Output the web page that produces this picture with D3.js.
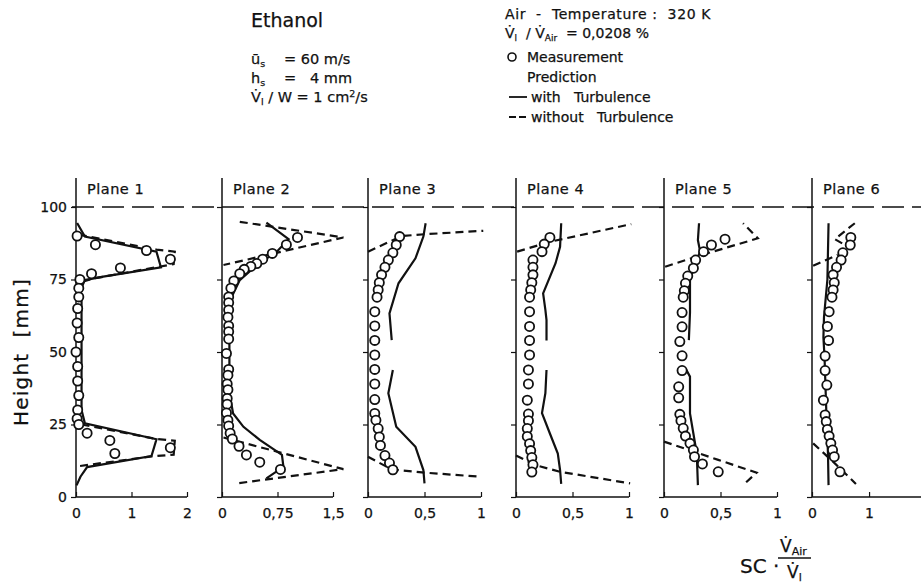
<!DOCTYPE html>
<html><head><meta charset="utf-8">
<script src="https://cdn.jsdelivr.net/npm/d3@7"></script>
<style>
html,body{margin:0;padding:0;background:#fff;}
text{font-family:"DejaVu Sans",sans-serif;fill:#111;stroke:#111;stroke-width:0.25px;}
</style></head>
<body><svg id="c" width="921" height="588"></svg>
<script>
// ---------- data ----------
const planeNames = ["Plane 1","Plane 2","Plane 3","Plane 4","Plane 5","Plane 6"];
const xDomainMax = [2, 1.5, 1, 1, 1, 1.91];
const xTickValues = [[0,1,2],[0,0.75,1.5],[0,0.5,1],[0,0.5,1],[0,0.5,1],[0,1]];
const xTickLabels = [["0","1","2"],["0","0,75","1,5"],["0","0,5","1"],["0","0,5","1"],["0","0,5","1"],["0","1"]];
const yTickValues = [0,25,50,75,100];

// measurement points [value, height mm]
const meas1 = [[0.02,90],[0.35,87],[1.27,85],[1.7,82],[0.8,79],[0.28,77],[0.07,75],[0.05,72],[0.05,69],[0.03,65],[0.02,60],[0.05,55],[0,50],[0.03,45],[0.03,40],[0.05,35],[0.03,30],[0.02,27],[0.05,25],[0.2,22],[0.61,19.5],[1.7,17],[0.7,15]];
const meas2 = [[1.02,89.5],[0.87,87],[0.68,84],[0.55,82],[0.47,80.5],[0.39,79.5],[0.3,78.5],[0.24,77],[0.16,74.5],[0.12,72],[0.09,69],[0.09,67],[0.09,64.5],[0.08,62],[0.09,59],[0.09,57],[0.09,54.5],[0.06,49.5],[0.09,44],[0.08,42],[0.07,39],[0.08,37],[0.07,34],[0.07,32],[0.06,29],[0.08,26.5],[0.09,24.5],[0.11,22],[0.14,20],[0.23,17.5],[0.33,14.5],[0.51,12],[0.79,9.5]];
const meas3 = [[0.28,89.8],[0.25,86.9],[0.22,84.2],[0.18,81.7],[0.15,79.2],[0.12,76.6],[0.1,73.9],[0.09,71.4],[0.08,68.9],[0.06,63.9],[0.06,59],[0.06,54],[0.06,49],[0.06,44],[0.06,39],[0.06,33.6],[0.06,28.8],[0.07,26.5],[0.09,23.6],[0.1,20.7],[0.11,17.8],[0.15,14.3],[0.19,11.7],[0.22,9.4]];
const meas4 = [[0.3,89.5],[0.25,87.2],[0.23,84.6],[0.15,81.7],[0.15,79.2],[0.15,76.6],[0.14,73.9],[0.13,71.4],[0.12,68.9],[0.12,63.9],[0.12,58.8],[0.12,54],[0.12,49],[0.11,43.8],[0.11,39],[0.1,33.4],[0.11,28.6],[0.11,26.3],[0.1,23.6],[0.1,20.9],[0.12,18.4],[0.13,16],[0.14,13.6],[0.15,11.1],[0.14,8.6]];
const meas5 = [[0.54,88.9],[0.42,86.9],[0.35,84.6],[0.28,81.7],[0.26,78.9],[0.21,76.2],[0.19,73.7],[0.18,71.1],[0.17,68.9],[0.16,63.6],[0.16,58.7],[0.14,53.6],[0.16,48.7],[0.16,43.6],[0.13,38],[0.13,34.2],[0.14,28.5],[0.15,26.3],[0.17,23.7],[0.19,21],[0.23,18.5],[0.26,16.2],[0.27,13.9],[0.34,11.4],[0.48,8.7]];
const meas6 = [[0.68,89.5],[0.67,86.9],[0.54,84.2],[0.51,81.7],[0.43,79.2],[0.37,76.6],[0.39,73.9],[0.37,71.4],[0.35,68.9],[0.3,63.9],[0.27,58.8],[0.29,54],[0.23,48.6],[0.23,43.6],[0.26,38.6],[0.2,33.4],[0.23,28.3],[0.25,26],[0.27,23.3],[0.3,21],[0.33,18.5],[0.36,16.2],[0.39,13.9],[0.49,8.7]];

// prediction with turbulence (null = gap)
const solid1 = [[0.02,94.5],[0.16,89.8],[1.45,84.6],[1.53,79.2],[0.49,76],[0.16,74.8],[0.08,71.4],[0.1,69],[0.1,50],[0.1,30],[0.16,25.4],[1.45,19.9],[1.36,14.1],[0.2,10.3],[0.08,7],[0.01,4]];
const solid2 = [[0.6,94.6],[0.9,88.9],[0.74,84.6],[0.47,80],[0.24,74.8],[0.13,69],[0.1,61],[0.1,50],[0.1,36],[0.15,28.8],[0.29,24.2],[0.51,19.7],[0.81,14.5],[0.83,10.4],[0.6,6.4]];
const solid3 = [[0.51,94.4],[0.49,89.8],[0.42,82.3],[0.27,73.7],[0.19,63.3],[0.21,54.1],null,[0.22,43.8],[0.18,35.8],[0.25,24.2],[0.42,17.3],[0.49,9.3],[0.5,4.7]];
const solid4 = [[0.4,94.4],[0.39,86.3],[0.35,80.6],[0.24,70.2],[0.26,64.5],[0.27,61],[0.27,54],null,[0.27,43.8],[0.26,35.8],[0.23,28.9],[0.3,21.9],[0.37,15],[0.39,9.3],[0.4,4.5]];
const solid5 = [[0.31,94.4],[0.3,88.6],[0.32,84.6],[0.26,78.9],[0.23,74.8],[0.23,63.6],[0.22,54.1],null,[0.19,44.4],[0.23,41.5],[0.23,28.8],[0.26,21.9],[0.29,15],[0.3,4.1]];
const solid6 = [[0.29,94.4],[0.27,75],[0.21,62],[0.2,55],[0.22,48],[0.25,30],[0.28,15],[0.29,4.1]];

// prediction without turbulence
const dashed1 = [[0.05,90.5],[1.45,85.3],[1.78,84.6],[1.76,80.3],[0.3,75.3],[0.08,74],null,[0.1,25],[1.45,20],[1.78,19.4],[1.76,14.6],[1.36,14],[0,10.5]];
const dashed2 = [[0.24,94.9],[1.64,89.5],[0.02,80],null,[0.02,20.5],[1.64,9.6],[0.2,4.7]];
const dashed3 = [[0,84.6],[0.3,90],[0.5,90.6],[1.02,91.8],null,[0,13.9],[0.21,9.5],[0.5,8.4],[0.99,7]];
const dashed4 = [[0.01,84.6],[0.3,88],[1.02,94.1],null,[0,14.3],[0.17,11],[0.39,8.7],[1.01,4.7]];
const dashed5 = [[0.01,79.4],[0.33,83.4],[0.83,89.2],[0.7,94.4],null,[0,19.1],[0.48,12.8],[0.82,8.4],[0.7,4.1]];
const dashed6 = [[0.02,79.7],[0.45,83.5],null,[0.75,94.4],[0.4,88.9],[0.58,86.9],null,[0.02,18.5],[0.4,11.6],[0.77,4.5]];

const measAll = [meas1,meas2,meas3,meas4,meas5,meas6];
const solidAll = [solid1,solid2,solid3,solid4,solid5,solid6];
const dashedAll = [dashed1,dashed2,dashed3,dashed4,dashed5,dashed6];

// ---------- layout ----------
const svg = d3.select("#c");
const panelX0 = [76,222,368,516,664,812];
const panelX1 = [187,333,481,629,777,921];
const yBottom = 497, yTop = 207;
const y = d3.scaleLinear().domain([0,100]).range([yBottom,yTop]);
const ink = "#111";

// reference line at 100 mm
svg.append("line").attr("x1",72).attr("x2",921).attr("y1",y(100)).attr("y2",y(100))
  .attr("stroke",ink).attr("stroke-width",1.6).attr("stroke-dasharray","22,8");

planeNames.forEach((name,i)=>{
  const x = d3.scaleLinear().domain([0,xDomainMax[i]]).range([panelX0[i],panelX1[i]]);
  const g = svg.append("g");
  g.append("line").attr("x1",panelX0[i]).attr("x2",panelX0[i]).attr("y1",178).attr("y2",yBottom)
    .attr("stroke",ink).attr("stroke-width",1.5);
  const ya = d3.axisLeft(y).tickValues(yTickValues).tickSize(5).tickFormat(i===0? d3.format("d") : "");
  const yg = g.append("g").attr("transform",`translate(${panelX0[i]},0)`).call(ya);
  yg.select(".domain").remove();
  yg.selectAll("line").attr("stroke",ink).attr("stroke-width",1.2);
  yg.selectAll("text").attr("font-size",14).attr("font-family","DejaVu Sans").attr("fill",ink).attr("dx",-1);
  const xa = d3.axisBottom(x).tickValues(xTickValues[i]).tickSizeInner(-5).tickSizeOuter(0).tickPadding(11)
    .tickFormat((d,k)=>xTickLabels[i][k]);
  const xg = g.append("g").attr("transform",`translate(0,${yBottom})`).call(xa);
  xg.select(".domain").attr("d",`M${panelX0[i]},0H${panelX1[i]}`).attr("stroke",ink).attr("stroke-width",1.5);
  xg.selectAll("line").attr("stroke",ink).attr("stroke-width",1.2);
  xg.selectAll("text").attr("font-size",14).attr("font-family","DejaVu Sans").attr("fill",ink);
  g.append("text").attr("x",panelX0[i]+11).attr("y",194).attr("font-size",14.5).attr("letter-spacing",0.5).text(name);

  const line = d3.line().defined(d=>d!==null).x(d=>x(d[0])).y(d=>y(d[1]));
  g.append("path").datum(dashedAll[i]).attr("d",line).attr("fill","none").attr("stroke",ink)
    .attr("stroke-width",2.2).attr("stroke-dasharray","8,5");
  g.append("path").datum(solidAll[i]).attr("d",line).attr("fill","none").attr("stroke",ink)
    .attr("stroke-width",2.2);
  g.selectAll("circle.m").data(measAll[i]).join("circle").attr("class","m")
    .attr("cx",d=>x(d[0])).attr("cy",d=>y(d[1])).attr("r",4.6)
    .attr("fill","#fff").attr("stroke",ink).attr("stroke-width",1.8);
});

// y-axis title
svg.append("text").attr("transform","translate(28,352) rotate(-90)").attr("text-anchor","middle")
  .attr("font-size",20).attr("letter-spacing",1.2).style("white-space","pre").text("Height  [mm]");

// header left
svg.append("text").attr("x",251).attr("y",27).attr("font-size",19).text("Ethanol");
function sub(base, subtxt, x, yy){
  const tx = svg.append("text").attr("x",x).attr("y",yy).attr("font-size",14.5);
  tx.append("tspan").text(base);
  tx.append("tspan").attr("font-size",9.5).attr("dy",3).text(subtxt);
  return tx;
}
sub("\u016B","s",251,64);
svg.append("text").attr("x",284).attr("y",64).attr("font-size",14.5).text("= 60 m/s");
sub("h","s",251,83);
svg.append("text").attr("x",284).attr("y",83).attr("font-size",14.5).style("white-space","pre").text("=   4 mm");
{
  const t = svg.append("text").attr("x",251).attr("y",102).attr("font-size",14.5).style("white-space","pre");
  t.append("tspan").text("V\u0307");
  t.append("tspan").attr("font-size",9.5).attr("dy",3).text("l");
  t.append("tspan").attr("dy",-3).text(" / W = 1 cm");
  t.append("tspan").attr("font-size",9.5).attr("dy",-5).text("2");
  t.append("tspan").attr("dy",5).text("/s");
}
// header right
svg.append("text").attr("x",505).attr("y",19).attr("font-size",14).attr("letter-spacing",0.6)
  .style("white-space","pre").text("Air  -  Temperature :  320 K");
{
  const t = svg.append("text").attr("x",505).attr("y",38).attr("font-size",14).style("white-space","pre");
  t.append("tspan").text("V\u0307");
  t.append("tspan").attr("font-size",9).attr("dy",3).text("l");
  t.append("tspan").attr("dy",-3).text("  / V\u0307");
  t.append("tspan").attr("font-size",9).attr("dy",3).text("Air");
  t.append("tspan").attr("dy",-3).text("  = 0,0208 %");
}
svg.append("circle").attr("cx",512).attr("cy",57).attr("r",4).attr("fill","#fff").attr("stroke",ink).attr("stroke-width",1.6);
svg.append("text").attr("x",527).attr("y",62).attr("font-size",14).text("Measurement");
svg.append("text").attr("x",527).attr("y",82).attr("font-size",14).text("Prediction");
svg.append("line").attr("x1",509).attr("x2",527).attr("y1",97).attr("y2",97).attr("stroke",ink).attr("stroke-width",1.8);
svg.append("text").attr("x",531).attr("y",102).attr("font-size",14).style("white-space","pre").text("with   Turbulence");
svg.append("line").attr("x1",509).attr("x2",527).attr("y1",117).attr("y2",117).attr("stroke",ink).attr("stroke-width",1.8).attr("stroke-dasharray","7,3");
svg.append("text").attr("x",531).attr("y",122).attr("font-size",14).style("white-space","pre").text("without   Turbulence");

// x quantity label
svg.append("text").attr("x",740).attr("y",573).attr("font-size",20).style("white-space","pre").text("SC \u00B7");
{
  const t = svg.append("text").attr("x",780).attr("y",552).attr("font-size",17);
  t.append("tspan").text("V\u0307");
  t.append("tspan").attr("font-size",11).attr("dy",3).text("Air");
  svg.append("line").attr("x1",778).attr("x2",811).attr("y1",558).attr("y2",558).attr("stroke",ink).attr("stroke-width",1.3);
  const b = svg.append("text").attr("x",787).attr("y",578).attr("font-size",17);
  b.append("tspan").text("V\u0307");
  b.append("tspan").attr("font-size",11).attr("dy",3).text("l");
}
</script></body></html>
